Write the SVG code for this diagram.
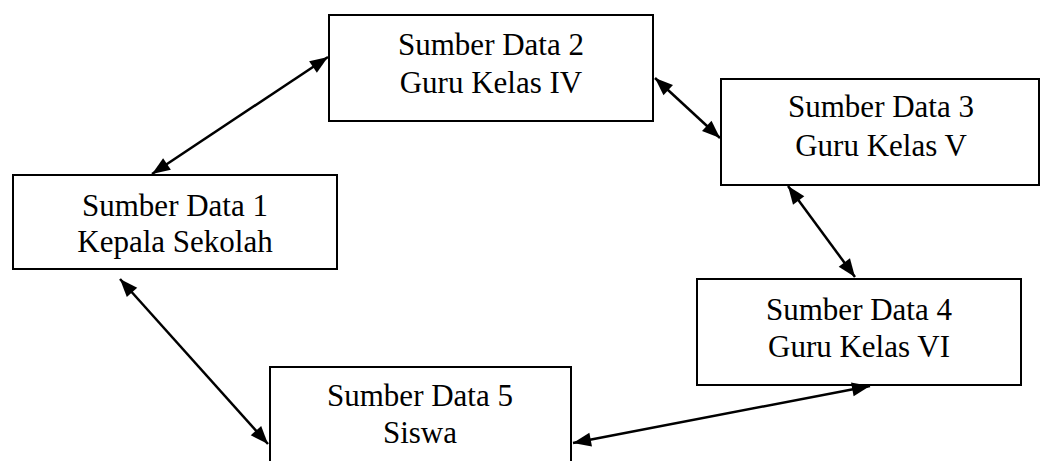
<svg xmlns="http://www.w3.org/2000/svg" width="1046" height="461" viewBox="0 0 1046 461">
<defs>
<style>
.box{fill:#fff;stroke:#000;stroke-width:2}
.lbl{font-family:"Liberation Serif","Times New Roman",serif;font-size:31px;fill:#000;text-anchor:middle}
.conn{stroke:#000;stroke-width:2.5;fill:none;marker-start:url(#ah);marker-end:url(#ah)}
</style>
<marker id="ah" markerUnits="userSpaceOnUse" markerWidth="18" markerHeight="14" refX="18" refY="7" orient="auto-start-reverse" overflow="visible">
<path d="M0,0 L18,7 L0,14 z" fill="#000"/>
</marker>
</defs>
<rect width="1046" height="461" fill="#fff"/>
<g id="node1"><rect class="box" x="13" y="175" width="324" height="94"/><text class="lbl" x="175" y="216">Sumber Data 1</text><text class="lbl" x="175" y="252">Kepala Sekolah</text></g>
<g id="node2"><rect class="box" x="329" y="15" width="324" height="106"/><text class="lbl" x="491" y="55">Sumber Data 2</text><text class="lbl" x="491" y="93">Guru Kelas IV</text></g>
<g id="node3"><rect class="box" x="721" y="79" width="318" height="106"/><text class="lbl" x="881" y="117">Sumber Data 3</text><text class="lbl" x="881" y="156">Guru Kelas V</text></g>
<g id="node4"><rect class="box" x="697" y="279" width="324" height="106"/><text class="lbl" x="859" y="320">Sumber Data 4</text><text class="lbl" x="859" y="357">Guru Kelas VI</text></g>
<g id="node5"><rect class="box" x="270" y="367" width="301" height="110"/><text class="lbl" x="420" y="406">Sumber Data 5</text><text class="lbl" x="420" y="443">Siswa</text></g>
<g id="connectors">
<line class="conn" x1="152" y1="174" x2="328" y2="57"/>
<line class="conn" x1="655" y1="78" x2="720" y2="138"/>
<line class="conn" x1="788" y1="186" x2="855" y2="277"/>
<line class="conn" x1="870" y1="386" x2="573" y2="443"/>
<line class="conn" x1="120" y1="279" x2="268" y2="444"/>
</g>
</svg>
